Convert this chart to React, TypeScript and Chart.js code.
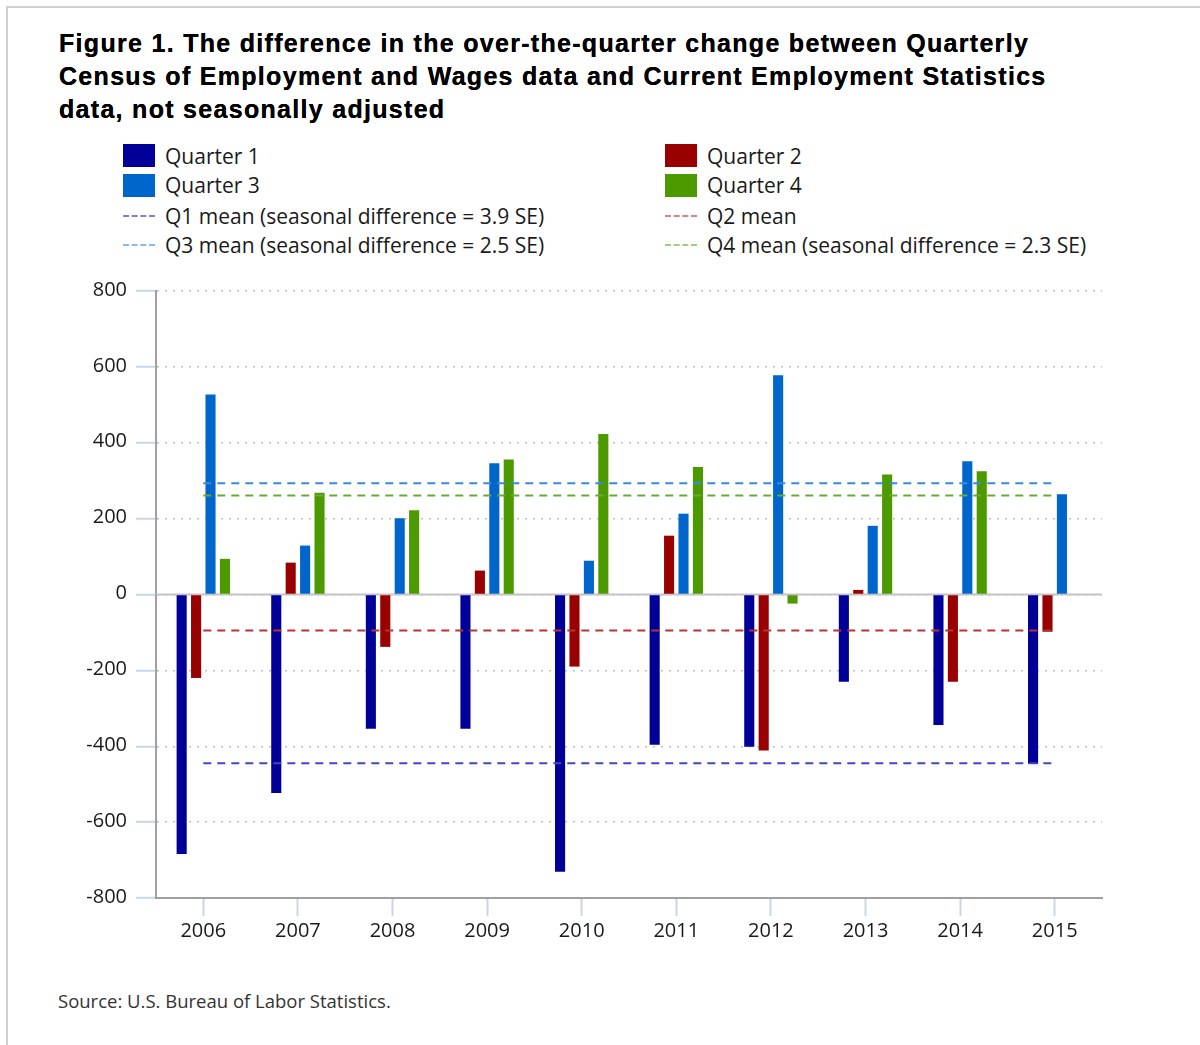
import React, { useEffect, useRef } from "react";
import { Chart, registerables } from "chart.js";

Chart.register(...registerables);

// ---- Data ----
const years = ["2006", "2007", "2008", "2009", "2010", "2011", "2012", "2013", "2014", "2015"];
const quarter1 = [-684, -523, -354, -354, -731, -396, -401, -230, -344, -446];
const quarter2 = [-220, 84, -138, 63, -190, 155, -411, 12, -230, -98];
const quarter3 = [527, 129, 201, 346, 89, 213, 578, 181, 351, 264];
const quarter4: (number | null)[] = [94, 268, 222, 356, 423, 336, -24, 316, 325, null];
const meanQ1 = -445;
const meanQ2 = -95;
const meanQ3 = 293;
const meanQ4 = 261;
const yMin = -800;
const yMax = 800;
const yStep = 200;

const titleText =
  "Figure 1. The difference in the over-the-quarter change between Quarterly Census of Employment and Wages data and Current Employment Statistics data, not seasonally adjusted";
const sourceText = "Source: U.S. Bureau of Labor Statistics.";

const colors = {
  q1: "#000099",
  q2: "#990000",
  q3: "#0066cc",
  q4: "#4c9900",
  m1: "#4545c2",
  m2: "#b83434",
  m3: "#3a8ae0",
  m4: "#6aaa35",
};

const legendItems = [
  { label: "Quarter 1", color: colors.q1, kind: "box", x: 123, y: 155.5 },
  { label: "Quarter 2", color: colors.q2, kind: "box", x: 665, y: 155.5 },
  { label: "Quarter 3", color: colors.q3, kind: "box", x: 123, y: 185 },
  { label: "Quarter 4", color: colors.q4, kind: "box", x: 665, y: 185 },
  { label: "Q1 mean (seasonal difference = 3.9 SE)", color: "#8080d8", kind: "dash", x: 123, y: 215.5 },
  { label: "Q2 mean", color: "#d08888", kind: "dash", x: 665, y: 215.5 },
  { label: "Q3 mean (seasonal difference = 2.5 SE)", color: "#88b8ee", kind: "dash", x: 123, y: 245 },
  { label: "Q4 mean (seasonal difference = 2.3 SE)", color: "#a0cc80", kind: "dash", x: 665, y: 245 },
];

const FONT = "'Open Sans', 'DejaVu Sans', sans-serif";

const zeroLinePlugin = {
  id: "zeroLine",
  beforeDatasetsDraw(chart: any) {
    const { ctx, chartArea, scales } = chart;
    const y = scales.y.getPixelForValue(0);
    ctx.save();
    ctx.strokeStyle = "#c4c4c4";
    ctx.lineWidth = 2;
    ctx.beginPath();
    ctx.moveTo(chartArea.left, y);
    ctx.lineTo(chartArea.right, y);
    ctx.stroke();
    ctx.restore();
  },
};

function meanLine(label: string, value: number, color: string) {
  return {
    type: "line" as const,
    label,
    data: years.map(() => value),
    borderColor: color,
    borderWidth: 2,
    borderDash: [8, 6],
    pointRadius: 0,
    fill: false,
    order: 0,
  };
}

function barSet(label: string, data: (number | null)[], color: string) {
  return {
    type: "bar" as const,
    label,
    data,
    backgroundColor: color,
    borderWidth: 0,
    categoryPercentage: 0.61,
    barPercentage: 0.7,
    order: 1,
  };
}

function ChartCanvas() {
  const ref = useRef<HTMLCanvasElement | null>(null);
  useEffect(() => {
    if (!ref.current) return;
    const chart = new Chart(ref.current, {
      type: "bar",
      data: {
        labels: years,
        datasets: [
          barSet("Quarter 1", quarter1, colors.q1),
          barSet("Quarter 2", quarter2, colors.q2),
          barSet("Quarter 3", quarter3, colors.q3),
          barSet("Quarter 4", quarter4, colors.q4),
          meanLine("Q1 mean", meanQ1, colors.m1),
          meanLine("Q2 mean", meanQ2, colors.m2),
          meanLine("Q3 mean", meanQ3, colors.m3),
          meanLine("Q4 mean", meanQ4, colors.m4),
        ] as any,
      },
      options: {
        animation: false,
        responsive: false,
        maintainAspectRatio: false,
        layout: { padding: { left: 0, right: 98, top: 16, bottom: 0 } },
        plugins: {
          legend: { display: false },
          tooltip: { enabled: false },
          title: { display: false },
        },
        scales: {
          x: {
            grid: {
              display: true,
              drawOnChartArea: false,
              offset: false,
              tickLength: 18,
              tickColor: "#c8d6e6",
              tickWidth: 2,
            },
            border: { display: true, color: "#a0a0a0", width: 2 },
            ticks: {
              font: { family: FONT, size: 20 },
              color: "#1a1a1a",
              padding: 3,
              maxRotation: 0,
              autoSkip: false,
            },
            afterFit: (s: any) => {
              s.height = 72;
            },
          },
          y: {
            min: yMin,
            max: yMax,
            ticks: {
              stepSize: yStep,
              font: { family: FONT, size: 20 },
              color: "#1a1a1a",
              padding: 9,
              labelOffset: -1,
            },
            grid: {
              color: "#c0c0c0",
              lineWidth: 1.5,
              tickLength: 20,
              tickColor: "#c8d6e6",
              tickWidth: 2,
            },
            border: { display: true, color: "#a0a0a0", width: 2, dash: [2, 6] },
            afterFit: (s: any) => {
              s.width = 156;
            },
          },
        },
      } as any,
      plugins: [zeroLinePlugin],
    });
    return () => chart.destroy();
  }, []);
  return (
    <canvas
      ref={ref}
      width={1200}
      height={700}
      style={{ position: "absolute", left: 0, top: 270, width: 1200, height: 700, display: "block" }}
    />
  );
}

export default function App() {
  return (
    <div
      style={{
        position: "absolute",
        left: 0,
        top: 0,
        width: 1200,
        height: 1045,
        background: "#ffffff",
        overflow: "hidden",
      }}
    >
      <div
        style={{
          position: "absolute",
          left: 6,
          top: 6,
          width: 1300,
          height: 1100,
          borderLeft: "2px solid #d0d0d0",
          borderTop: "2px solid #d0d0d0",
        }}
      />
      <div
        style={{
          position: "absolute",
          left: 59,
          top: 27,
          width: 1060,
          fontFamily: "'Liberation Sans', Arial, sans-serif",
          fontWeight: "bold",
          fontSize: 25,
          lineHeight: "33px",
          letterSpacing: "1.3px",
          color: "#000000",
          textShadow: "0 0 0.4px #000",
        }}
      >
        {titleText}
      </div>
      {legendItems.map((it) => (
        <div
          key={it.label}
          style={{
            position: "absolute",
            left: it.x,
            top: it.y - 15,
            height: 30,
            display: "flex",
            alignItems: "center",
            whiteSpace: "nowrap",
            fontFamily: FONT,
            fontSize: 21,
            color: "#1a1a1a",
          }}
        >
          {it.kind === "box" ? (
            <span style={{ display: "inline-block", width: 32, height: 23, background: it.color }} />
          ) : (
            <span
              style={{
                display: "inline-block",
                width: 32,
                height: 0,
                borderTop: `2px dashed ${it.color}`,
              }}
            />
          )}
          <span style={{ marginLeft: 10 }}>{it.label}</span>
        </div>
      ))}
      <ChartCanvas />
      <div
        style={{
          position: "absolute",
          left: 58,
          top: 988,
          fontFamily: FONT,
          fontSize: 18.5,
          color: "#333333",
          whiteSpace: "nowrap",
        }}
      >
        {sourceText}
      </div>
    </div>
  );
}
